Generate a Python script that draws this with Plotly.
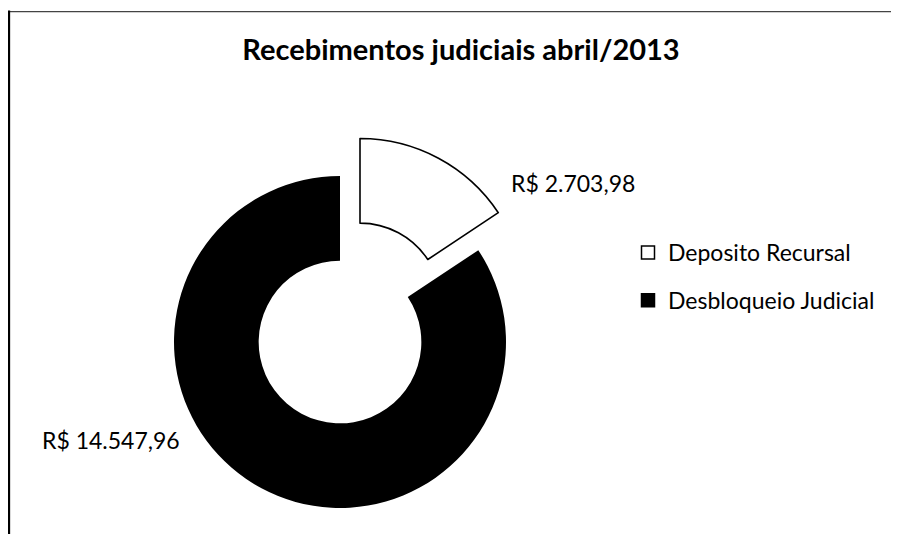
import plotly.graph_objects as go

labels = ["Deposito Recursal", "Desbloqueio Judicial"]
values = [2703.98, 14547.96]
title_text = "Recebimentos judiciais abril/2013"

# the browser page has an 8px body margin; lay out in page pixels and shift
OFF = 8
W, H = 899 - OFF, 534 - OFF
FONT = "Lato"


def px(x):
    return (x - OFF) / W


def py(y):
    return 1 - (y - OFF) / H


def brl(v):
    s = f"{v:,.2f}"
    s = s.replace(",", "X").replace(".", ",").replace("X", ".")
    return "R$ " + s


def px_dom(cx, cy, r):
    return dict(x=[px(cx - r), px(cx + r)], y=[py(cy + r), py(cy - r)])


R = 166
HOLE = 0.49
CX, CY = 340, 342
PULL_DX, PULL_DY = 20, -37.5

fig = go.Figure()

# base donut: the large slice
fig.add_trace(go.Pie(
    labels=labels, values=values, sort=False, direction="clockwise", rotation=0,
    hole=HOLE, domain=px_dom(CX, CY, R), textinfo="none", hoverinfo="label+value",
    marker=dict(colors=["rgba(0,0,0,0)", "#000000"],
                line=dict(color=["rgba(0,0,0,0)", "#000000"], width=[0, 0])),
    showlegend=False,
))
# exploded small slice
fig.add_trace(go.Pie(
    labels=labels, values=values, sort=False, direction="clockwise", rotation=0,
    hole=HOLE, domain=px_dom(CX + PULL_DX, CY + PULL_DY, R), textinfo="none",
    hoverinfo="label+value",
    marker=dict(colors=["#ffffff", "rgba(0,0,0,0)"],
                line=dict(color=["#000000", "rgba(0,0,0,0)"], width=[1.6, 0])),
    showlegend=False,
))

# legend entries
sw_colors = ["#ffffff", "#000000"]
for i, lab in enumerate(labels):
    fig.add_trace(go.Scatter(
        x=[None], y=[None], mode="markers", name=lab, legendgroup=lab,
        marker=dict(symbol="square", size=13, color=sw_colors[i],
                    line=dict(color="#000000", width=1.5)),
    ))

annotations = [
    dict(text=brl(values[0]), x=px(509), y=py(183), xref="paper", yref="paper",
         xanchor="left", yanchor="middle", showarrow=False,
         font=dict(family=FONT, size=23, color="#000")),
    dict(text=brl(values[1]), x=px(40), y=py(440), xref="paper", yref="paper",
         xanchor="left", yanchor="middle", showarrow=False,
         font=dict(family=FONT, size=23, color="#000")),
]

shapes = [
    dict(type="line", xref="paper", yref="paper", x0=px(8), x1=1, y0=py(11.7), y1=py(11.7),
         line=dict(color="#444444", width=1.3)),
    dict(type="line", xref="paper", yref="paper", x0=px(8.8), x1=px(8.8), y0=0, y1=py(10.5),
         line=dict(color="#000000", width=2.7)),
]

fig.update_layout(
    width=W, height=H,
    margin=dict(l=0, r=0, t=0, b=0),
    paper_bgcolor="#ffffff", plot_bgcolor="#ffffff",
    title=dict(text="<b>" + title_text + "</b>", x=px(461), xanchor="center",
               y=py(50), yanchor="middle",
               font=dict(family=FONT, size=29, color="#000")),
    xaxis=dict(visible=False), yaxis=dict(visible=False),
    legend=dict(x=px(628), y=py(231), xanchor="left", yanchor="top",
                font=dict(family=FONT, size=23, color="#000"),
                traceorder="grouped", tracegroupgap=15, bgcolor="rgba(0,0,0,0)"),
    annotations=annotations, shapes=shapes,
)

fig.write_html("out.html")
